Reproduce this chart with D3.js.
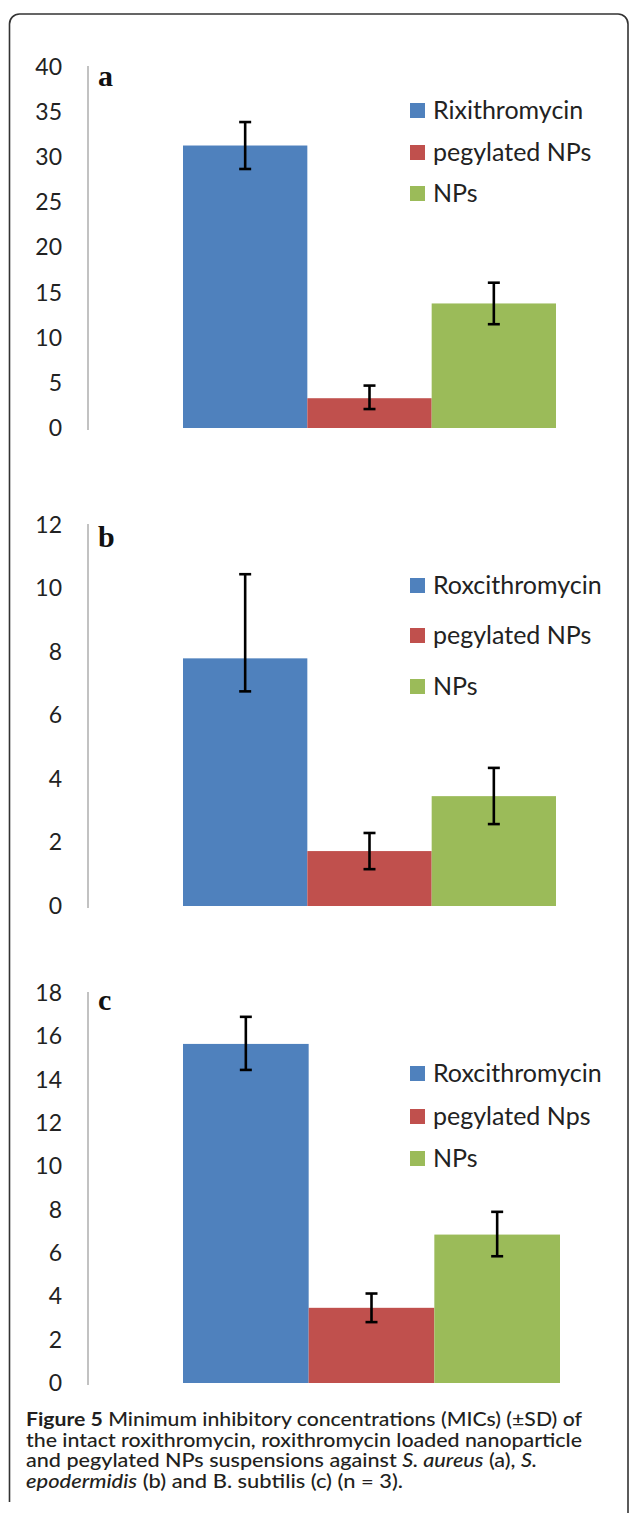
<!DOCTYPE html>
<html>
<head>
<meta charset="utf-8">
<script src="https://cdn.jsdelivr.net/npm/d3@7"></script>
<style>
  body { margin: 0; background: #fff; }
  svg { display: block; }
</style>
</head>
<body>
<div id="chart"></div>
<script>
// MIC values, one array per panel
const barColors = ["#4F81BD", "#C0504D", "#9BBB59"];

const legendA = ["Rixithromycin", "pegylated NPs", "NPs"];
const valuesA = [31.3, 3.3, 13.8];
const errLowA = [2.6, 1.2, 2.3];
const errHighA = [2.6, 1.4, 2.3];
const ticksA = [0, 5, 10, 15, 20, 25, 30, 35, 40];

const legendB = ["Roxcithromycin", "pegylated NPs", "NPs"];
const valuesB = [7.8, 1.73, 3.46];
const errLowB = [1.04, 0.57, 0.88];
const errHighB = [2.65, 0.57, 0.89];
const ticksB = [0, 2, 4, 6, 8, 10, 12];

const legendC = ["Roxcithromycin", "pegylated Nps", "NPs"];
const valuesC = [15.65, 3.47, 6.85];
const errLowC = [1.2, 0.66, 1.0];
const errHighC = [1.25, 0.66, 1.05];
const ticksC = [0, 2, 4, 6, 8, 10, 12, 14, 16, 18];

const W = 629, H = 1513;

const svg = d3.select("#chart").append("svg")
    .attr("width", W)
    .attr("height", H);

// frame around the figure (bottom is cut off in the original)
svg.append("path")
    .attr("d", "M9.5,1502 V24 A10,10 0 0 1 19.5,14 H618 A10,10 0 0 1 628,24 V1513")
    .attr("fill", "none")
    .attr("stroke", "#333")
    .attr("stroke-width", 1.6);

function drawPanel(cfg) {
    const g = svg.append("g");

    const y = d3.scaleLinear()
        .domain([0, d3.max(cfg.ticks)])
        .range([cfg.bottom, cfg.top]);

    const x = d3.scaleBand()
        .domain(d3.range(cfg.values.length))
        .range([cfg.left, cfg.right])
        .padding(0);

    const axis = g.append("g")
        .attr("transform", "translate(88,0)")
        .call(d3.axisLeft(y).tickValues(cfg.ticks).tickSize(0).tickSizeOuter(0).tickPadding(26));
    axis.select(".domain")
        .attr("stroke", "#999")
        .attr("stroke-width", 1.2)
        .attr("d", "M0," + (cfg.top - 1) + "V" + (cfg.bottom + 2));
    axis.selectAll("text")
        .attr("font-family", "Lato, sans-serif")
        .attr("font-size", 23)
        .attr("fill", "#222");

    g.selectAll(".bar")
        .data(cfg.values)
        .enter().append("rect")
        .attr("class", "bar")
        .attr("x", (d, i) => x(i))
        .attr("width", x.bandwidth())
        .attr("y", d => y(d))
        .attr("height", d => y(0) - y(d))
        .attr("fill", (d, i) => barColors[i]);

    // error bars
    const eb = g.selectAll(".err")
        .data(cfg.values)
        .enter().append("g")
        .attr("class", "err")
        .attr("stroke", "#000")
        .attr("stroke-width", 2.6);
    const cx = i => x(i) + x.bandwidth() / 2;
    eb.append("line")
        .attr("x1", (d, i) => cx(i)).attr("x2", (d, i) => cx(i))
        .attr("y1", (d, i) => y(d + cfg.errHigh[i]))
        .attr("y2", (d, i) => y(d - cfg.errLow[i]));
    eb.append("line")
        .attr("x1", (d, i) => cx(i) - 6).attr("x2", (d, i) => cx(i) + 6)
        .attr("y1", (d, i) => y(d + cfg.errHigh[i]))
        .attr("y2", (d, i) => y(d + cfg.errHigh[i]));
    eb.append("line")
        .attr("x1", (d, i) => cx(i) - 6).attr("x2", (d, i) => cx(i) + 6)
        .attr("y1", (d, i) => y(d - cfg.errLow[i]))
        .attr("y2", (d, i) => y(d - cfg.errLow[i]));

    // panel letter
    g.append("text")
        .attr("x", 98)
        .attr("y", cfg.letterY)
        .attr("font-family", "'Liberation Serif', serif")
        .attr("font-weight", "bold")
        .attr("font-size", 30)
        .attr("fill", "#111")
        .text(cfg.letter);

    // legend
    const lg = g.selectAll(".leg")
        .data(cfg.legend)
        .enter().append("g")
        .attr("class", "leg")
        .attr("transform", (d, i) => "translate(410," + cfg.legendY[i] + ")");
    lg.append("rect")
        .attr("x", 0).attr("y", -7)
        .attr("width", 15).attr("height", 15)
        .attr("fill", (d, i) => barColors[i]);
    lg.append("text")
        .attr("x", 23)
        .attr("dy", "0.37em")
        .attr("font-family", "Lato, sans-serif")
        .attr("font-size", 25)
        .attr("fill", "#222")
        .text(d => d);
}

drawPanel({ letter: "a", legend: legendA, values: valuesA, errLow: errLowA, errHigh: errHighA, ticks: ticksA,
    top: 67, bottom: 428, left: 183, right: 556, letterY: 86, legendY: [110, 152, 193] });
drawPanel({ letter: "b", legend: legendB, values: valuesB, errLow: errLowB, errHigh: errHighB, ticks: ticksB,
    top: 525, bottom: 906, left: 183, right: 556, letterY: 547, legendY: [585, 635, 686] });
drawPanel({ letter: "c", legend: legendC, values: valuesC, errLow: errLowC, errHigh: errHighC, ticks: ticksC,
    top: 993, bottom: 1383, left: 183, right: 560, letterY: 1010, legendY: [1073, 1116, 1158] });

// caption
const captionLines = [
    [["Figure 5", "b"], [" Minimum inhibitory concentrations (MICs) (\u00B1SD) of", ""]],
    [["the intact roxithromycin, roxithromycin loaded nanoparticle", ""]],
    [["and pegylated NPs suspensions against ", ""], ["S. aureus", "i"], [" (a), ", ""], ["S.", "i"]],
    [["epodermidis", "i"], [" (b) and B. subtilis (c) (n = 3).", ""]]
];
const lineY = [1426, 1447, 1467, 1488];
const lineLen = [556, 556, 511, 377];

captionLines.forEach((parts, li) => {
    const t = svg.append("text")
        .attr("x", 26)
        .attr("y", lineY[li])
        .attr("font-family", "Lato, sans-serif")
        .attr("font-size", 18.5)
        .attr("fill", "#231f20")
        .attr("textLength", lineLen[li])
        .attr("lengthAdjust", "spacingAndGlyphs");
    parts.forEach(p => {
        t.append("tspan")
            .attr("font-weight", p[1] === "b" ? "bold" : 500)
            .attr("font-style", p[1] === "i" ? "italic" : "normal")
            .text(p[0]);
    });
});
</script>
</body>
</html>
